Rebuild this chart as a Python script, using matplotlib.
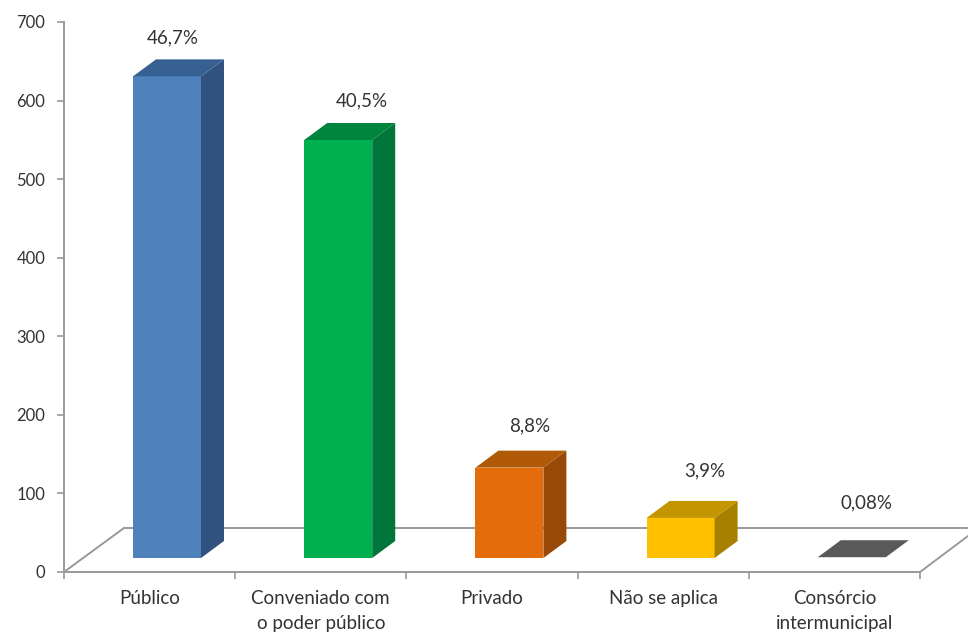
#!/usr/bin/env python
import matplotlib
matplotlib.use('Agg')
import matplotlib.pyplot as plt
from matplotlib.patches import Polygon

categories = ['Público', 'Conveniado com\no poder público', 'Privado',
              'Não se aplica', 'Consórcio\nintermunicipal']
values = [613, 532, 115, 51, 1]
percents = ['46,7%', '40,5%', '8,8%', '3,9%', '0,08%']

front_colors = ['#4F81BD', '#00B050', '#E46C0A', '#FFC000', '#595959']
side_colors = ['#31527F', '#00763A', '#984807', '#A88000', '#595959']
top_colors = ['#376092', '#00853F', '#B05A08', '#C49500', '#595959']

# label shift from the front top corner centre, in pixels (dpi 100 so px*0.72 = pt)
label_shift = [(6, 38), (24, 39), (20, 42), (24, 47), (15, 54)]

W, H = 968, 635
X0, X1 = 64, 920
Y0, Y700 = 572, 22

plt.rcParams['font.family'] = ['Lato', 'DejaVu Sans']
TEXT = '#333333'
GREY = '#999999'
FS = 13.5

fig = plt.figure(figsize=(W / 100, H / 100), dpi=100)
ax = fig.add_axes([X0 / W, 1 - Y0 / H, (X1 - X0) / W, (Y0 - Y700) / H])
ax.set_xlim(0, 5)
ax.set_ylim(0, 700)

# pixel -> data unit factors
ux = 5 / (X1 - X0)
uy = 700 / (Y0 - Y700)

floor_dx, floor_dy = 60 * ux, 44 * uy
base = 14 * uy      # bars stand a bit inside the floor
bar_left = 0.403
bar_w = 68 * ux
dx, dy = 23 * ux, 17 * uy

# floor outline
line = dict(color=GREY, lw=1.4, clip_on=False, zorder=1)
ax.plot([0, floor_dx], [0, floor_dy], **line)
ax.plot([floor_dx, 5 + 48 * ux], [floor_dy, floor_dy], **line)
ax.plot([5, 5 + 48 * ux], [0, 36 * uy], **line)

for i, v in enumerate(values):
    x0 = i + bar_left
    x1 = x0 + bar_w
    y0 = base
    y1 = base + v
    if v > 5:
        ax.add_patch(Polygon([(x0, y0), (x1, y0), (x1, y1), (x0, y1)],
                             fc=front_colors[i], ec='none', zorder=3, clip_on=False))
        ax.add_patch(Polygon([(x1, y0), (x1 + dx, y0 + dy), (x1 + dx, y1 + dy), (x1, y1)],
                             fc=side_colors[i], ec='none', zorder=3, clip_on=False))
    ax.add_patch(Polygon([(x0, y1), (x1, y1), (x1 + dx, y1 + dy), (x0 + dx, y1 + dy)],
                         fc=top_colors[i], ec='none', zorder=3, clip_on=False))
    sx, sy = label_shift[i]
    ax.annotate(percents[i], xy=((x0 + x1) / 2, y1), xytext=(sx * 0.72, sy * 0.72),
                textcoords='offset points', ha='center', va='center',
                fontsize=FS, color=TEXT, annotation_clip=False)

for s in ['top', 'right']:
    ax.spines[s].set_visible(False)
for s in ['left', 'bottom']:
    ax.spines[s].set_color(GREY)
    ax.spines[s].set_linewidth(1.4)

ax.set_yticks(range(0, 701, 100))
ax.set_xticks(range(6))
ax.set_xticklabels([])
ax.set_xticks([i + 0.5 for i in range(5)], minor=True)
ax.set_xticklabels(categories, minor=True, fontsize=FS, color=TEXT, linespacing=1.55, va='top')
ax.tick_params(axis='x', which='minor', length=0, pad=13)
ax.tick_params(axis='x', which='major', length=5, color=GREY, width=1.2)
ax.tick_params(axis='y', length=5, color=GREY, width=1.2, labelsize=12, labelcolor=TEXT, pad=8.5)

fig.savefig('out.png', dpi=100)
